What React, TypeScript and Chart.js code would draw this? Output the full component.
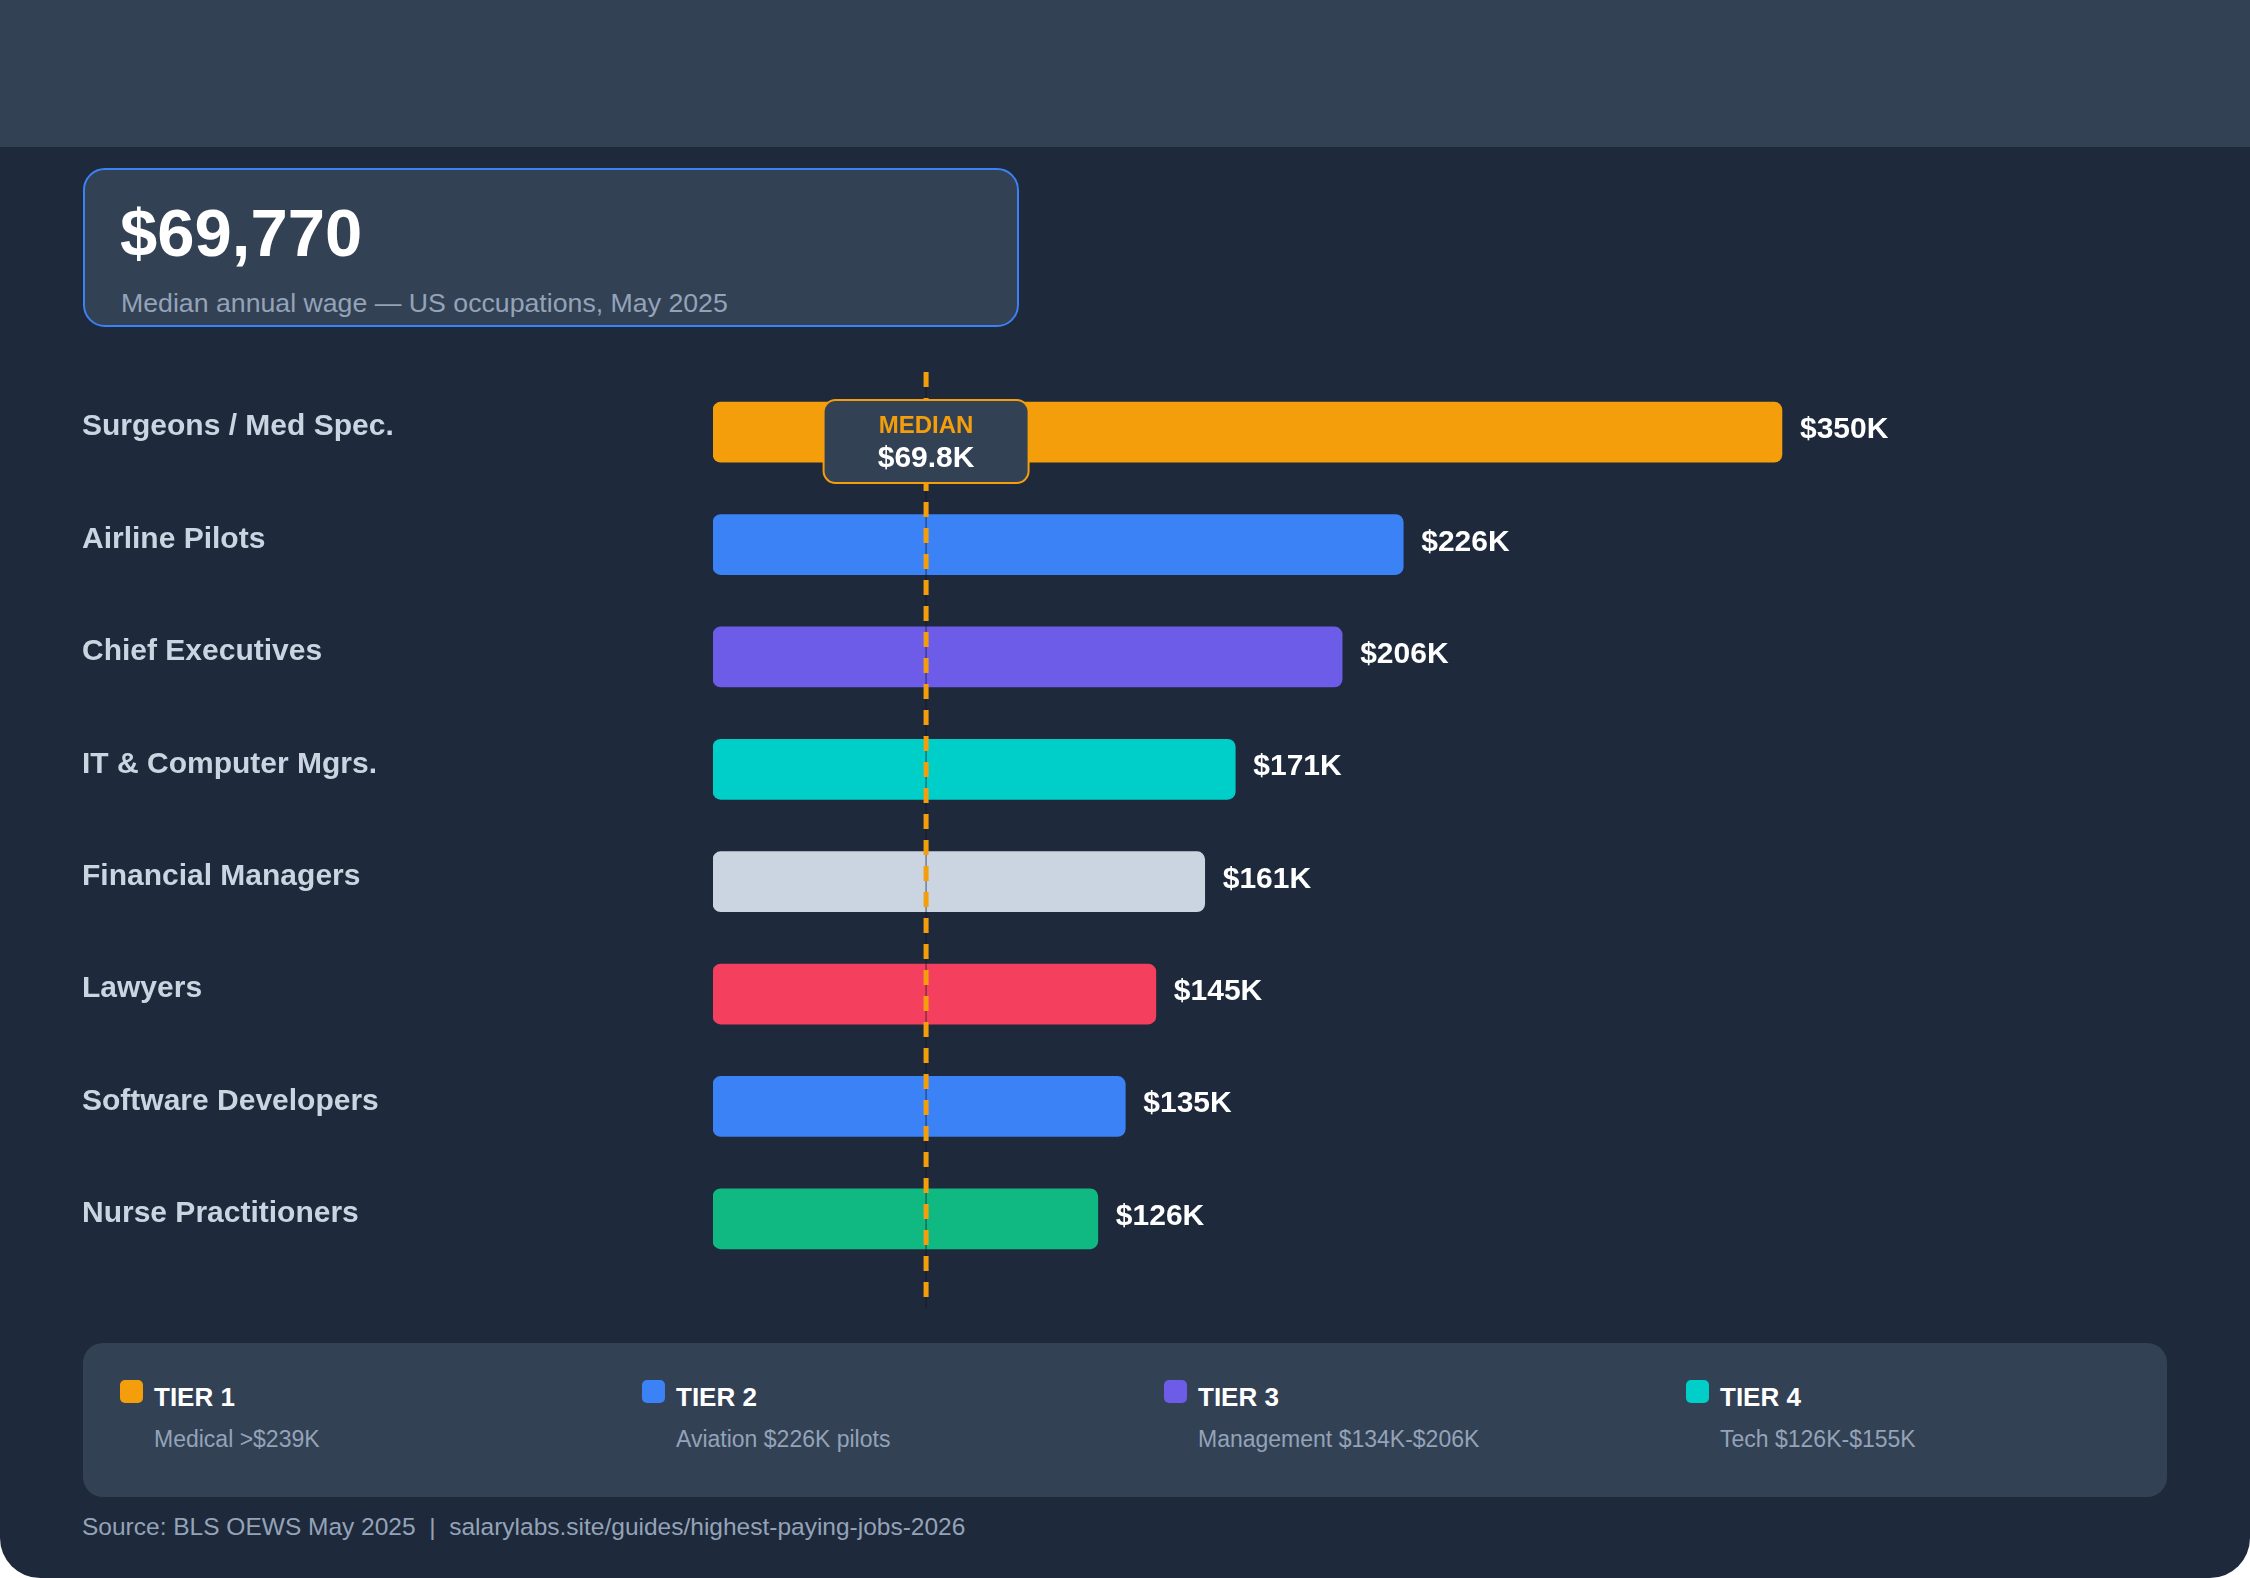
import React, { useEffect, useRef } from 'react';
import { Chart, registerables, Plugin } from 'chart.js';

Chart.register(...registerables);

const OCCUPATIONS = [
  'Surgeons / Med Spec.',
  'Airline Pilots',
  'Chief Executives',
  'IT & Computer Mgrs.',
  'Financial Managers',
  'Lawyers',
  'Software Developers',
  'Nurse Practitioners',
];
const WAGES_K = [350, 226, 206, 171, 161, 145, 135, 126];
const BAR_COLORS = ['#f59e0b', '#3b82f6', '#6c5ce7', '#00cec9', '#cbd5e1', '#f43f5e', '#3b82f6', '#10b981'];
const MEDIAN_WAGE = 69770;
const X_MAX_K = 480;

const TIER_NAMES = ['TIER 1', 'TIER 2', 'TIER 3', 'TIER 4'];
const TIER_NOTES = ['Medical >$239K', 'Aviation $226K pilots', 'Management $134K-$206K', 'Tech $126K-$155K'];
const TIER_COLORS = ['#f59e0b', '#3b82f6', '#6c5ce7', '#00cec9'];

const FONT = '"Liberation Sans", Arial, Helvetica, sans-serif';

// value text to the right of every bar
const valueLabels: Plugin<'bar'> = {
  id: 'valueLabels',
  afterDatasetsDraw(chart) {
    const { ctx } = chart;
    const meta = chart.getDatasetMeta(0);
    ctx.save();
    ctx.font = `bold 30px ${FONT}`;
    ctx.fillStyle = '#ffffff';
    ctx.textAlign = 'left';
    ctx.textBaseline = 'alphabetic';
    meta.data.forEach((bar: any, i: number) => {
      ctx.fillText(`$${WAGES_K[i]}K`, bar.x + 18, bar.y + 6);
    });
    ctx.restore();
  },
};

// dashed median marker + badge
const medianLine: Plugin<'bar'> = {
  id: 'medianLine',
  afterDatasetsDraw(chart) {
    const { ctx, chartArea, scales } = chart;
    const x = scales.x.getPixelForValue(MEDIAN_WAGE / 1000);
    const y0 = chartArea.top - 4;
    const y1 = chartArea.bottom + 33;
    ctx.save();
    ctx.strokeStyle = 'rgba(15,23,42,0.7)';
    ctx.lineWidth = 1;
    ctx.beginPath();
    ctx.moveTo(x, y0);
    ctx.lineTo(x, y1);
    ctx.stroke();

    ctx.setLineDash([15, 11]);
    ctx.strokeStyle = '#f59e0b';
    ctx.lineWidth = 5;
    ctx.beginPath();
    ctx.moveTo(x, y0);
    ctx.lineTo(x, y1);
    ctx.stroke();
    ctx.setLineDash([]);

    const w = 205;
    const h = 83;
    const top = chartArea.top + 24;
    ctx.beginPath();
    ctx.roundRect(x - w / 2, top, w, h, 12);
    ctx.fillStyle = '#334155';
    ctx.fill();
    ctx.lineWidth = 2;
    ctx.strokeStyle = '#f59e0b';
    ctx.stroke();

    ctx.textAlign = 'center';
    ctx.textBaseline = 'alphabetic';
    ctx.font = `bold 24px ${FONT}`;
    ctx.fillStyle = '#f59e0b';
    ctx.fillText('MEDIAN', x, top + 33);
    ctx.font = `bold 30px ${FONT}`;
    ctx.fillStyle = '#ffffff';
    ctx.fillText(`$${(MEDIAN_WAGE / 1000).toFixed(1)}K`, x, top + 67);
    ctx.restore();
  },
};

const WageChart: React.FC = () => {
  const canvasRef = useRef<HTMLCanvasElement | null>(null);

  useEffect(() => {
    if (!canvasRef.current) return;
    const chart = new Chart(canvasRef.current, {
      type: 'bar',
      data: {
        labels: OCCUPATIONS,
        datasets: [
          {
            data: WAGES_K,
            backgroundColor: BAR_COLORS,
            borderRadius: 8,
            borderSkipped: false,
            barThickness: 60,
          },
        ],
      },
      options: {
        indexAxis: 'y',
        animation: false,
        responsive: true,
        maintainAspectRatio: false,
        layout: { padding: { top: 36, bottom: 55, left: 0, right: 0 } },
        scales: {
          x: { display: false, min: 0, max: X_MAX_K },
          y: {
            grid: { display: false },
            border: { display: false },
            afterFit: (scale: any) => {
              scale.width = 631;
            },
            ticks: {
              crossAlign: 'far',
              labelOffset: -5,
              color: '#cbd5e1',
              font: { family: FONT, size: 30, weight: 'bold' },
            },
          },
        },
        plugins: {
          legend: { display: false },
          tooltip: { enabled: false },
        },
      },
      plugins: [valueLabels, medianLine],
    });
    return () => chart.destroy();
  }, []);

  return (
    <div style={{ position: 'absolute', left: 82, top: 340, width: 2097, height: 990 }}>
      <canvas ref={canvasRef}></canvas>
    </div>
  );
};

export default function App() {
  useEffect(() => {
    document.body.style.margin = '0';
    document.body.style.background = '#ffffff';
  }, []);

  return (
    <div
      style={{
        position: 'relative',
        width: 2250,
        height: 1578,
        background: '#1e293b',
        borderRadius: '0 0 40px 40px',
        overflow: 'hidden',
        fontFamily: FONT,
      }}
    >
      <div style={{ position: 'absolute', left: 0, top: 0, width: 2250, height: 147, background: '#334155' }} />

      <div
        style={{
          position: 'absolute',
          left: 83,
          top: 168,
          width: 936,
          height: 159,
          boxSizing: 'border-box',
          background: '#334155',
          border: '2.5px solid #3b82f6',
          borderRadius: 22,
        }}
      />
      <div
        style={{
          position: 'absolute',
          left: 120,
          top: 194,
          fontSize: 67,
          fontWeight: 'bold',
          color: '#ffffff',
          lineHeight: 'normal',
        }}
      >
        ${MEDIAN_WAGE.toLocaleString('en-US')}
      </div>
      <div style={{ position: 'absolute', left: 121, top: 288, fontSize: 26.7, color: '#94a3b8', lineHeight: 'normal' }}>
        Median annual wage — US occupations, May 2025
      </div>

      <WageChart />

      <div
        style={{
          position: 'absolute',
          left: 83,
          top: 1343,
          width: 2084,
          height: 154,
          background: '#334155',
          borderRadius: 20,
        }}
      />
      {TIER_NAMES.map((name, i) => (
        <React.Fragment key={name}>
          <div
            style={{
              position: 'absolute',
              left: 120 + i * 522,
              top: 1380,
              width: 23,
              height: 23,
              borderRadius: 5,
              background: TIER_COLORS[i],
            }}
          />
          <div
            style={{
              position: 'absolute',
              left: 154 + i * 522,
              top: 1382,
              fontSize: 26,
              fontWeight: 'bold',
              color: '#ffffff',
              lineHeight: 'normal',
            }}
          >
            {name}
          </div>
          <div
            style={{
              position: 'absolute',
              left: 154 + i * 522,
              top: 1426,
              fontSize: 23,
              color: '#94a3b8',
              lineHeight: 'normal',
            }}
          >
            {TIER_NOTES[i]}
          </div>
        </React.Fragment>
      ))}

      <div
        style={{
          position: 'absolute',
          left: 82,
          top: 1513,
          fontSize: 24.5,
          color: '#94a3b8',
          whiteSpace: 'pre',
          lineHeight: 'normal',
        }}
      >
        {'Source: BLS OEWS May 2025  |  salarylabs.site/guides/highest-paying-jobs-2026'}
      </div>
    </div>
  );
}
